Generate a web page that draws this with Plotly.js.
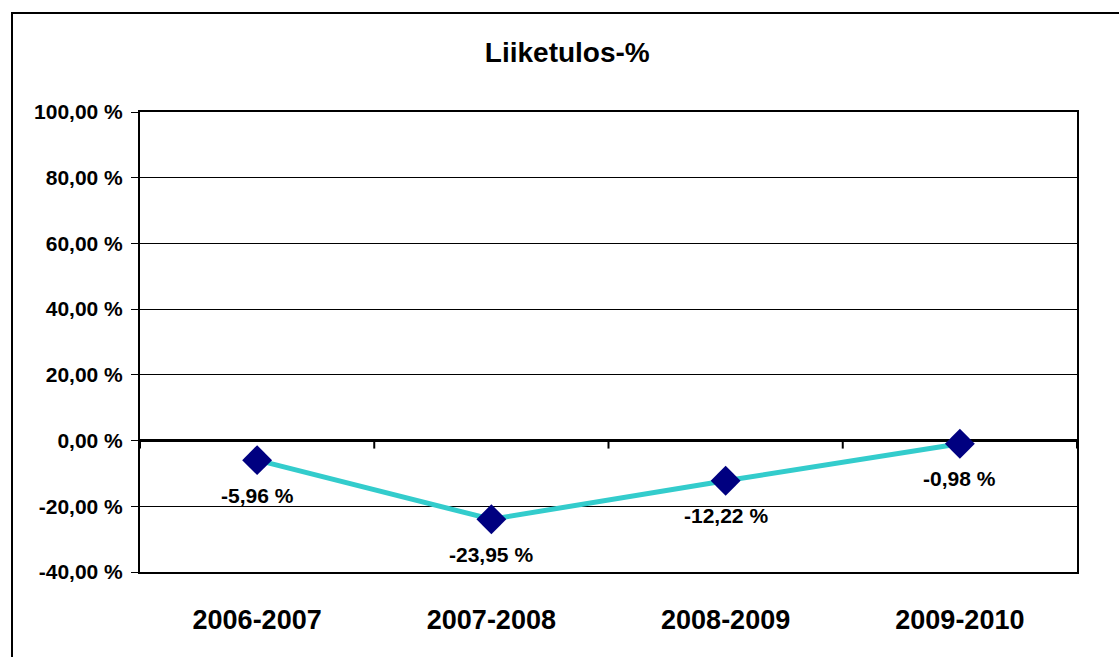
<!DOCTYPE html>
<html>
<head>
<meta charset="utf-8">
<script src="https://cdn.plot.ly/plotly-3.0.1.min.js"></script>
<style>
html,body{margin:0;padding:0;background:#fff;overflow:hidden;}
#wrap{position:relative;width:1119px;height:657px;overflow:hidden;}
#chart{width:1119px;height:657px;}
#frame{position:absolute;left:11px;top:12px;width:1108px;height:645px;border-left:2px solid #000;border-top:2px solid #000;box-sizing:border-box;pointer-events:none;}
</style>
</head>
<body>
<div id="wrap"><div id="chart"></div><div id="frame"></div></div>
<script>
const categories = ["2006-2007", "2007-2008", "2008-2009", "2009-2010"];
const values = [-5.96, -23.95, -12.22, -0.98];
const yTickVals = [-40, -20, 0, 20, 40, 60, 80, 100];
const yTickLabels = ["-40,00 %", "-20,00 %", "0,00 %", "20,00 %", "40,00 %", "60,00 %", "80,00 %", "100,00 %"];
const titleText = "Liiketulos-%";

const fmt = v => v.toFixed(2).replace('.', ',') + ' %';
const b = s => '<b>' + s + '</b>';
const font = "Liberation Sans, Arial, sans-serif";

const trace = {
  x: categories,
  y: values,
  type: 'scatter',
  mode: 'lines+markers',
  line: {color: '#33CCCC', width: 5},
  marker: {symbol: 'diamond', size: 23, color: '#000080', line: {width: 0}},
  hoverinfo: 'skip',
  cliponaxis: false
};

const annotations = categories.map((c, i) => ({
  x: c, y: values[i], xref: 'x', yref: 'y',
  text: b(fmt(values[i])), showarrow: false,
  yanchor: 'middle', yshift: -35,
  font: {family: font, size: 21, color: '#000'}
}));

const boundaries = [];
for (let i = 0; i <= categories.length; i++) boundaries.push(i - 0.5);
const shapes = boundaries.map(v => ({
  type: 'line', xref: 'x', yref: 'y', ysizemode: 'pixel', yanchor: 0,
  x0: v, x1: v, y0: 0, y1: -8,
  line: {color: '#000', width: 2}
}));

const layout = {
  width: 1119, height: 657,
  margin: {l: 140, r: 42, t: 112, b: 85},
  paper_bgcolor: '#fff', plot_bgcolor: '#fff',
  showlegend: false,
  title: {text: b(titleText), x: 0.507, xanchor: 'center', y: 1 - 52/657, yanchor: 'middle',
          font: {family: font, size: 28, color: '#000'}},
  xaxis: {
    type: 'category', range: [-0.5, 3.5],
    tickvals: categories, ticktext: categories.map(b),
    showgrid: false, zeroline: false,
    showline: true, linecolor: '#000', linewidth: 2, mirror: true,
    ticks: '', ticklabelstandoff: 23,
    tickfont: {family: font, size: 27, color: '#000'},
    fixedrange: true
  },
  yaxis: {
    range: [-40, 100], tickvals: yTickVals, ticktext: yTickLabels.map(b),
    showgrid: true, gridcolor: '#000', gridwidth: 1,
    zeroline: true, zerolinecolor: '#000', zerolinewidth: 3,
    showline: true, linecolor: '#000', linewidth: 2, mirror: true,
    ticks: 'outside', ticklen: 7, tickwidth: 1, tickcolor: '#000',
    ticklabelstandoff: 4,
    tickfont: {family: font, size: 21, color: '#000'},
    fixedrange: true
  },
  annotations: annotations,
  shapes: shapes
};

Plotly.newPlot('chart', [trace], layout, {displayModeBar: false, staticPlot: true});
</script>
</body>
</html>
